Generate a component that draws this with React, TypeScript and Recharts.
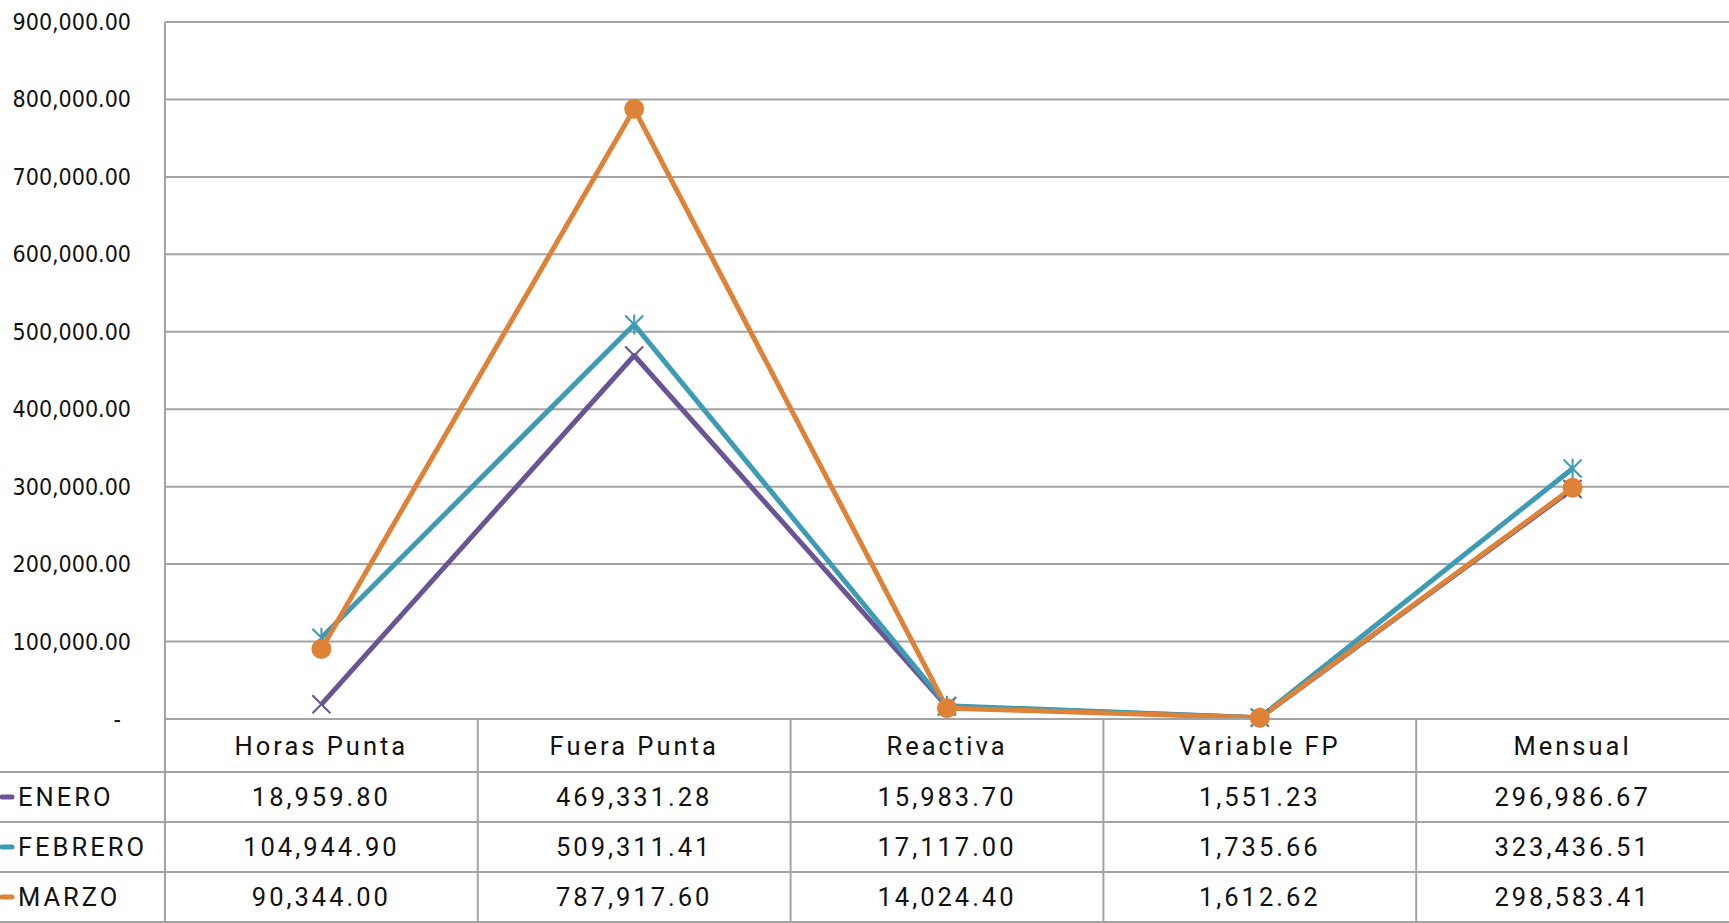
import { LineChart, Line, XAxis, YAxis, CartesianGrid } from 'recharts'

const categories = ['Horas Punta', 'Fuera Punta', 'Reactiva', 'Variable FP', 'Mensual']
const enero = [18959.8, 469331.28, 15983.7, 1551.23, 296986.67]
const febrero = [104944.9, 509311.41, 17117.0, 1735.66, 323436.51]
const marzo = [90344.0, 787917.6, 14024.4, 1612.62, 298583.41]
const seriesNames = ['ENERO', 'FEBRERO', 'MARZO']
const yTicks = [0, 100000, 200000, 300000, 400000, 500000, 600000, 700000, 800000, 900000]

const seriesValues = [enero, febrero, marzo]
const seriesKeys = ['enero', 'febrero', 'marzo']
const colors = ['#6b5494', '#3d9bb3', '#de8238']

const data = categories.map((name, i) => ({
  name,
  enero: enero[i],
  febrero: febrero[i],
  marzo: marzo[i],
}))

// layout
const W = 1729
const H = 923
const AXIS_W = 165
const PLOT_TOP = 22
const PLOT_BOTTOM = 719
const HEADER_H = 53
const ROW_H = 50
const COL_W = (W - AXIS_W) / categories.length
const GRID = '#a3a3a3'
const TABLE_FONT = 'Roboto, sans-serif'
const TABLE_SIZE = 25.5
const TABLE_SPACING = 3

const fmt = (v: number) =>
  v.toLocaleString('en-US', { minimumFractionDigits: 2, maximumFractionDigits: 2 })

function YTick(props: any) {
  const { y, payload } = props
  const v = payload.value as number
  return (
    <text
      x={v === 0 ? AXIS_W - 44 : AXIS_W - 34}
      y={y}
      textAnchor="end"
      dominantBaseline="central"
      fontFamily="'DejaVu Sans Condensed', 'DejaVu Sans', sans-serif"
      fontSize={23}
      fill="#111"
    >
      {v === 0 ? '-' : fmt(v)}
    </text>
  )
}

function TableTick(props: any) {
  const { x, payload } = props
  const i = payload.index ?? categories.indexOf(payload.value)
  const left = x - COL_W / 2
  return (
    <g>
      <line x1={left} x2={left} y1={PLOT_BOTTOM} y2={H} stroke={GRID} strokeWidth={2} />
      <text
        x={x}
        y={PLOT_BOTTOM + HEADER_H / 2}
        textAnchor="middle"
        dominantBaseline="central"
        fontFamily={TABLE_FONT}
        fontSize={TABLE_SIZE}
        letterSpacing={TABLE_SPACING}
        fill="#111"
      >
        {payload.value}
      </text>
      {seriesValues.map((vals, r) => (
        <text
          key={r}
          x={x}
          y={PLOT_BOTTOM + HEADER_H + ROW_H * r + ROW_H / 2}
          textAnchor="middle"
          dominantBaseline="central"
          fontFamily={TABLE_FONT}
          fontSize={TABLE_SIZE}
          letterSpacing={TABLE_SPACING}
          fill="#111"
        >
          {fmt(vals[i])}
        </text>
      ))}
    </g>
  )
}

function CrossDot(props: any) {
  const { cx, cy, index } = props
  if (cx == null || cy == null) return <g key={index} />
  const s = 9
  return (
    <g key={index} stroke={colors[0]} strokeWidth={2}>
      <line x1={cx - s} y1={cy - s} x2={cx + s} y2={cy + s} />
      <line x1={cx - s} y1={cy + s} x2={cx + s} y2={cy - s} />
    </g>
  )
}

function StarDot(props: any) {
  const { cx, cy, index } = props
  if (cx == null || cy == null) return <g key={index} />
  const s = 9
  return (
    <g key={index} stroke={colors[1]} strokeWidth={2}>
      <line x1={cx - s} y1={cy - s} x2={cx + s} y2={cy + s} />
      <line x1={cx - s} y1={cy + s} x2={cx + s} y2={cy - s} />
      <line x1={cx} y1={cy - s - 1} x2={cx} y2={cy + s + 1} />
    </g>
  )
}

function CircleDot(props: any) {
  const { cx, cy, index } = props
  if (cx == null || cy == null) return <g key={index} />
  return <circle key={index} cx={cx} cy={cy} r={10} fill={colors[2]} stroke="none" />
}

const dots = [CrossDot, StarDot, CircleDot]

function TableOverlay() {
  const rowLines = [0, 1, 2, 3].map((r) => PLOT_BOTTOM + HEADER_H + ROW_H * r)
  return (
    <svg
      width={W}
      height={H}
      style={{ position: 'absolute', left: 0, top: 0, pointerEvents: 'none' }}
    >
      {rowLines.map((y, r) => (
        <line key={r} x1={0} x2={W} y1={y} y2={y} stroke={GRID} strokeWidth={2} />
      ))}
      {seriesNames.map((name, r) => {
        const cy = PLOT_BOTTOM + HEADER_H + ROW_H * r + ROW_H / 2
        return (
          <g key={name}>
            <line x1={2} x2={12} y1={cy} y2={cy} stroke={colors[r]} strokeWidth={5} strokeLinecap="round" />
            <text
              x={18}
              y={cy}
              dominantBaseline="central"
              fontFamily={TABLE_FONT}
              fontSize={TABLE_SIZE}
              letterSpacing={TABLE_SPACING}
              fill="#111"
            >
              {name}
            </text>
          </g>
        )
      })}
    </svg>
  )
}

export default function App() {
  return (
    <div style={{ position: 'absolute', left: 0, top: 0, width: W, height: H, background: '#fff' }}>
      <LineChart width={W} height={H} data={data} margin={{ top: PLOT_TOP, right: 0, left: 0, bottom: 0 }}>
        <CartesianGrid vertical={false} stroke={GRID} strokeWidth={2} />
        <XAxis
          dataKey="name"
          scale="band"
          height={H - PLOT_BOTTOM}
          interval={0}
          tickLine={false}
          axisLine={{ stroke: GRID, strokeWidth: 2 }}
          tick={<TableTick />}
        />
        <YAxis
          width={AXIS_W}
          domain={[0, 900000]}
          ticks={yTicks}
          interval={0}
          tickLine={false}
          axisLine={{ stroke: GRID, strokeWidth: 2 }}
          tick={<YTick />}
        />
        {seriesKeys.map((k, s) => (
          <Line
            key={k}
            dataKey={k}
            name={seriesNames[s]}
            stroke={colors[s]}
            strokeWidth={5}
            strokeLinejoin="round"
            dot={dots[s]}
            activeDot={false}
            isAnimationActive={false}
          />
        ))}
      </LineChart>
      <TableOverlay />
    </div>
  )
}
